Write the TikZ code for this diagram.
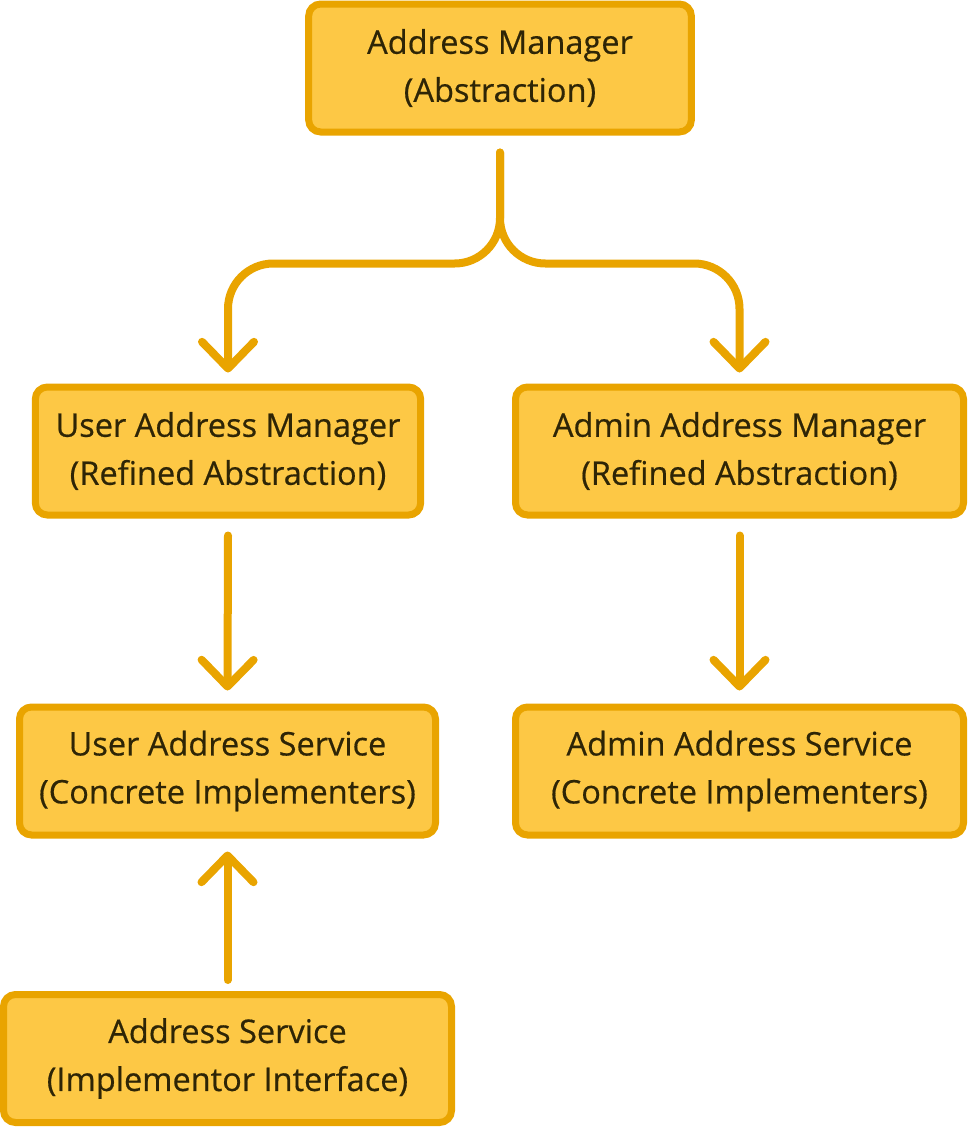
\documentclass[tikz,border=0pt]{standalone}
\usepackage{fontspec}
\setmainfont{Open Sans}
\newfontfamily\boxfont{Open Sans}[FakeBold=0.5]
\usetikzlibrary{arrows.meta,calc}
\definecolor{boxfill}{HTML}{FDC845}
\definecolor{boxline}{HTML}{E9A400}
\definecolor{txt}{HTML}{2E2506}
\begin{document}
\begin{tikzpicture}[x=0.75pt,y=-0.75pt,
  box/.style={draw=boxline, fill=boxfill, line width=5.25pt, rounded corners=9pt,
    text=txt, font=\boxfont\fontsize{24.4}{36}\selectfont, align=center, inner sep=0pt,
    minimum height=96pt},
  conn/.style={draw=boxline, line width=6pt, line cap=round, line join=round,
    -{Straight Barb[length=20pt,width=39pt,round]}}]
\useasboundingbox (0,0) rectangle (968,1128);
\node[box, minimum width=287pt] (am) at (500,68) {Address Manager\\(Abstraction)};
\node[box, minimum width=289pt] (uam) at (228,451) {User Address Manager\\(Refined Abstraction)};
\node[box, minimum width=336pt] (aam) at (739.5,451) {Admin Address Manager\\(Refined Abstraction)};
\node[box, minimum width=312pt] (uas) at (227.5,771) {User Address Service\\(Concrete Implementers)};
\node[box, minimum width=336pt] (aas) at (739.5,771) {Admin Address Service\\(Concrete Implementers)};
\node[box, minimum width=336pt] (as) at (227.5,1058.5) {Address Service\\(Implementor Interface)};
\coordinate (split) at ($(am.south)+(0,128)$);
\draw[conn, rounded corners=34pt] ($(am.south)+(0,17)$) -- (split) -| ($(uam.north)+(0,-11)$);
\draw[conn, rounded corners=34pt] ($(am.south)+(0,17)$) -- (split) -| ($(aam.north)+(0,-11)$);
\draw[conn] ($(uam.south)+(0,17)$) -- ($(uas.north)+(0,-13)$);
\draw[conn] ($(aam.south)+(0,17)$) -- ($(aas.north)+(0,-13)$);
\draw[conn] ($(as.north)+(0,-11)$) -- ($(uas.south)+(0,13)$);
\end{tikzpicture}
\end{document}
